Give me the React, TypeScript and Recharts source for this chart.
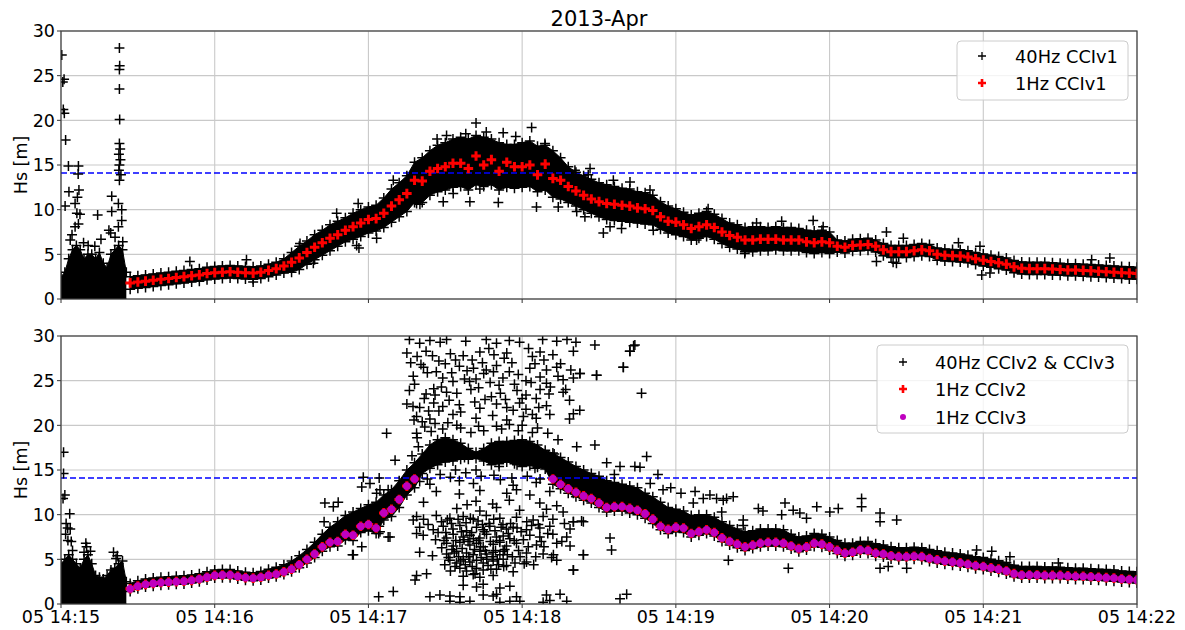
import { Area, CartesianGrid, ComposedChart, ReferenceLine, Scatter, XAxis, YAxis } from 'recharts';

const FONT = 'DejaVu Sans';
const WIDTH = 1185;
const PLOT_RIGHT = 1137;

const xTicks = [0, 60, 120, 180, 240, 300, 360, 420];
const xTickLabels = ['05 14:15', '05 14:16', '05 14:17', '05 14:18', '05 14:19', '05 14:20', '05 14:21', '05 14:22'];
const yTicks = [0, 5, 10, 15, 20, 25, 30];
const hsThreshold = 14.1;

// seconds after 05 14:15:00 of the plotted 1 Hz samples
const sampleTimes = [
  27, 30, 33, 36, 39, 42, 45, 48, 51, 54,
  57, 60, 63, 66, 69, 72, 75, 78, 81, 84,
  87, 90, 93, 96, 99, 102, 105, 108, 111, 114,
  117, 120, 123, 126, 129, 132, 135, 138, 141, 144,
  147, 150, 153, 156, 159, 162, 165, 168, 171, 174,
  177, 180, 183, 186, 189, 192, 195, 198, 201, 204,
  207, 210, 213, 216, 219, 222, 225, 228, 231, 234,
  237, 240, 243, 246, 249, 252, 255, 258, 261, 264,
  267, 270, 273, 276, 279, 282, 285, 288, 291, 294,
  297, 300, 303, 306, 309, 312, 315, 318, 321, 324,
  327, 330, 333, 336, 339, 342, 345, 348, 351, 354,
  357, 360, 363, 366, 369, 372, 375, 378, 381, 384,
  387, 390, 393, 396, 399, 402, 405, 408, 411, 414,
  417, 420,
];

const hz1CCIv1 = [
  1.8, 1.9, 2.0, 2.1, 2.2, 2.3, 2.4, 2.5, 2.6, 2.7,
  2.85, 2.95, 3.0, 3.05, 3.0, 2.95, 2.9, 3.0, 3.2, 3.4,
  3.7, 4.1, 4.6, 5.2, 5.8, 6.3, 6.8, 7.2, 7.7, 8.1,
  8.5, 8.9, 9.0, 9.6, 10.4, 11.1, 11.8, 13.3, 13.2, 14.3,
  14.6, 14.8, 15.2, 15.2, 14.6, 16.0, 15.0, 15.6, 14.3, 15.3,
  14.8, 14.8, 15.0, 13.9, 15.1, 13.5, 13.3, 12.6, 12.1, 11.6,
  11.2, 10.9, 10.7, 10.6, 10.5, 10.4, 10.2, 10.1, 9.9, 9.2,
  8.7, 8.6, 8.3, 7.9, 8.1, 8.3, 8.0, 7.5, 7.1, 6.9,
  6.6, 6.6, 6.7, 6.7, 6.7, 6.6, 6.6, 6.6, 6.4, 6.3,
  6.4, 6.3, 5.9, 5.8, 6.0, 6.05, 6.1, 5.9, 5.5, 5.3,
  5.3, 5.3, 5.4, 5.5, 5.4, 5.0, 4.9, 4.85, 4.8, 4.7,
  4.5, 4.35, 4.2, 4.05, 3.9, 3.6, 3.45, 3.4, 3.4, 3.4,
  3.35, 3.3, 3.25, 3.25, 3.2, 3.15, 3.1, 3.05, 3.0, 2.95,
  2.9, 2.85,
];

// lower / upper edge of the dense 40 Hz CCIv1 cloud
const band40CCIv1Low = [
  1.1, 1.2, 1.3, 1.4, 1.5, 1.6, 1.7, 1.8, 1.9, 2.0,
  2.15, 2.25, 2.3, 2.35, 2.3, 2.25, 2.2, 2.3, 2.5, 2.7,
  2.9, 3.0, 3.3, 3.9, 4.4, 4.9, 5.4, 5.9, 6.4, 6.7,
  7.0, 7.4, 7.6, 8.0, 8.6, 9.2, 9.8, 10.8, 10.8, 11.6,
  12.0, 12.2, 12.5, 12.6, 12.2, 12.8, 12.6, 12.8, 12.2, 12.5,
  12.4, 12.5, 12.6, 12.0, 12.2, 11.4, 11.2, 10.8, 10.4, 10.0,
  9.6, 9.2, 8.9, 8.8, 8.7, 8.6, 8.5, 8.4, 8.3, 7.8,
  7.4, 7.2, 7.0, 6.6, 6.8, 7.0, 6.7, 6.2, 5.8, 5.6,
  5.3, 5.3, 5.4, 5.4, 5.5, 5.4, 5.4, 5.4, 5.2, 5.1,
  5.2, 5.1, 5.25, 5.15, 5.35, 5.4, 5.45, 5.25, 4.85, 4.65,
  4.65, 4.65, 4.75, 4.85, 4.75, 4.35, 4.25, 4.2, 4.15, 4.05,
  3.85, 3.7, 3.55, 3.4, 3.25, 2.95, 2.8, 2.75, 2.75, 2.75,
  2.7, 2.65, 2.6, 2.6, 2.55, 2.5, 2.45, 2.4, 2.35, 2.3,
  2.25, 2.2,
];

const band40CCIv1High = [
  2.5, 2.6, 2.7, 2.8, 2.9, 3.0, 3.1, 3.2, 3.3, 3.4,
  3.55, 3.65, 3.7, 3.75, 3.7, 3.65, 3.6, 3.7, 3.9, 4.1,
  4.5, 5.2, 5.9, 6.5, 7.2, 7.7, 8.3, 8.7, 9.1, 9.6,
  10.0, 10.3, 10.5, 11.3, 12.3, 13.0, 13.8, 15.3, 15.8, 16.6,
  17.2, 17.5, 17.9, 18.1, 17.9, 18.3, 18.1, 17.9, 17.5, 17.3,
  17.3, 17.5, 17.7, 17.1, 17.2, 16.6, 15.8, 14.8, 14.2, 13.8,
  13.4, 13.0, 12.8, 12.6, 12.4, 12.3, 12.0, 11.9, 11.6, 10.9,
  10.4, 10.1, 9.7, 9.4, 9.6, 9.8, 9.5, 9.0, 8.5, 8.3,
  8.0, 8.1, 8.1, 8.0, 8.1, 8.0, 8.0, 7.9, 7.7, 7.6,
  7.7, 7.5, 6.6, 6.5, 6.7, 6.75, 6.8, 6.6, 6.2, 6.0,
  6.0, 6.0, 6.1, 6.2, 6.1, 5.7, 5.6, 5.55, 5.5, 5.4,
  5.2, 5.05, 4.9, 4.75, 4.6, 4.3, 4.15, 4.1, 4.1, 4.1,
  4.05, 4.0, 3.95, 3.95, 3.9, 3.85, 3.8, 3.75, 3.7, 3.65,
  3.6, 3.55,
];

// CCIv2 / CCIv3 have no 1 Hz value between 14:17:28 and 14:18:10
const hz1CCIv2 = [
  1.7, 2.0, 2.2, 2.3, 2.4, 2.45, 2.5, 2.55, 2.65, 2.8,
  3.0, 3.2, 3.25, 3.25, 3.1, 2.95, 2.9, 3.0, 3.2, 3.35,
  3.6, 3.9, 4.4, 5.0, 5.6, 6.4, 6.9, 7.0, 7.8, 7.7,
  8.7, 8.9, 8.5, 10.2, 10.6, 11.7, 13.2, 14.0, null, null,
  null, null, null, null, null, null, null, null, null, null,
  null, null, null, null, null, 14.0, 13.4, 12.9, 12.5, 12.1,
  11.8, 11.3, 10.8, 10.9, 10.9, 10.7, 10.5, 10.1, 9.5, 8.7,
  8.35, 8.6, 8.5, 7.9, 8.1, 8.3, 8.0, 7.4, 7.0, 6.7,
  6.4, 6.6, 6.8, 6.9, 6.9, 6.8, 6.5, 6.2, 6.4, 6.8,
  6.7, 6.4, 6.0, 5.7, 5.8, 6.05, 6.0, 5.7, 5.6, 5.4,
  5.3, 5.3, 5.35, 5.3, 5.1, 4.95, 4.8, 4.7, 4.6, 4.45,
  4.3, 4.2, 4.05, 3.9, 3.7, 3.4, 3.25, 3.25, 3.25, 3.2,
  3.2, 3.2, 3.15, 3.1, 3.1, 3.05, 3.0, 2.95, 2.9, 2.8,
  2.75, 2.7,
];

const hz1CCIv3 = [
  1.7, 2.0, 2.2, 2.3, 2.4, 2.45, 2.5, 2.55, 2.65, 2.8,
  3.0, 3.2, 3.25, 3.25, 3.1, 2.95, 2.9, 3.0, 3.2, 3.35,
  3.6, 3.9, 4.4, 5.0, 5.6, 6.4, 6.9, 7.0, 7.8, 7.7,
  8.7, 8.9, 8.5, 10.2, 10.6, 11.7, 13.2, 14.0, null, null,
  null, null, null, null, null, null, null, null, null, null,
  null, null, null, null, null, 14.0, 13.4, 12.9, 12.5, 12.1,
  11.8, 11.3, 10.8, 10.9, 10.9, 10.7, 10.5, 10.1, 9.5, 8.7,
  8.35, 8.6, 8.5, 7.9, 8.1, 8.3, 8.0, 7.4, 7.0, 6.7,
  6.4, 6.6, 6.8, 6.9, 6.9, 6.8, 6.5, 6.2, 6.4, 6.8,
  6.7, 6.4, 6.0, 5.7, 5.8, 6.05, 6.0, 5.7, 5.6, 5.4,
  5.3, 5.3, 5.35, 5.3, 5.1, 4.95, 4.8, 4.7, 4.6, 4.45,
  4.3, 4.2, 4.05, 3.9, 3.7, 3.4, 3.25, 3.25, 3.25, 3.2,
  3.2, 3.2, 3.15, 3.1, 3.1, 3.05, 3.0, 2.95, 2.9, 2.8,
  2.75, 2.7,
];

const band40CCIv23Low = [
  1.4, 1.7, 1.9, 2.0, 2.1, 2.15, 2.2, 2.25, 2.35, 2.5,
  2.7, 2.9, 2.95, 2.95, 2.8, 2.65, 2.6, 2.7, 2.9, 3.05,
  3.3, 3.6, 4.05, 4.6, 5.2, 5.9, 6.4, 6.5, 7.2, 7.1,
  8.0, 8.2, 7.9, 9.4, 9.8, 10.8, 12.2, 13.0, 14.6, 15.2,
  15.6, 15.9, 16.0, 16.2, 16.2, 16.3, 16.0, 15.6, 15.7, 15.9,
  15.7, 15.4, 15.5, 15.3, 15.1, 13.4, 12.9, 12.4, 12.0, 11.6,
  11.3, 10.8, 10.3, 10.4, 10.4, 10.2, 10.0, 9.6, 9.0, 8.3,
  7.9, 8.1, 8.0, 7.5, 7.7, 7.9, 7.6, 7.0, 6.6, 6.3,
  6.0, 6.2, 6.4, 6.5, 6.5, 6.4, 6.15, 5.85, 6.05, 6.45,
  6.35, 6.05, 5.65, 5.35, 5.45, 5.7, 5.65, 5.35, 5.25, 5.05,
  4.95, 4.95, 5.0, 4.95, 4.75, 4.6, 4.45, 4.35, 4.25, 4.1,
  3.95, 3.85, 3.7, 3.55, 3.35, 3.05, 2.9, 2.9, 2.9, 2.85,
  2.85, 2.85, 2.8, 2.75, 2.75, 2.7, 2.65, 2.6, 2.55, 2.45,
  2.4, 2.35,
];

const band40CCIv23High = [
  2.3, 2.6, 2.8, 2.9, 3.0, 3.05, 3.1, 3.15, 3.25, 3.4,
  3.6, 3.8, 3.85, 3.85, 3.7, 3.55, 3.5, 3.65, 3.9, 4.1,
  4.4, 4.8, 5.4, 6.1, 6.9, 7.8, 8.6, 9.2, 9.9, 10.3,
  10.7, 11.1, 11.4, 12.2, 12.8, 13.8, 15.0, 15.8, 16.8, 17.8,
  18.4, 18.6, 18.4, 18.0, 17.4, 17.0, 17.4, 18.0, 18.2, 18.2,
  18.3, 18.4, 18.2, 17.8, 17.2, 16.9, 16.4, 15.9, 15.4, 15.0,
  14.6, 14.3, 13.8, 13.6, 13.4, 13.2, 13.0, 12.4, 12.0, 11.4,
  10.8, 10.6, 10.4, 9.9, 10.0, 10.0, 9.7, 9.2, 8.8, 8.4,
  8.1, 8.2, 8.4, 8.4, 8.4, 8.3, 7.8, 7.5, 7.6, 7.9,
  7.8, 7.5, 7.1, 6.8, 6.8, 7.0, 7.0, 6.75, 6.6, 6.4,
  6.3, 6.3, 6.35, 6.3, 6.1, 5.95, 5.8, 5.7, 5.6, 5.45,
  5.3, 5.2, 5.0, 4.85, 4.65, 4.35, 4.2, 4.2, 4.2, 4.15,
  4.15, 4.1, 4.05, 4.0, 4.0, 3.95, 3.9, 3.85, 3.8, 3.7,
  3.65, 3.6,
];

// noisy 40 Hz returns before the 1 Hz product starts
const earlyTimes = [0, 1.5, 3, 4.5, 6, 7.5, 9, 10.5, 12, 13.5, 15, 16.5, 18, 19.5, 21, 22.5, 24, 25.5];
const earlyCloudCCIv1 = [2.5, 3.0, 4.5, 5.5, 6.0, 5.5, 4.5, 5.0, 5.0, 4.5, 5.2, 4.0, 3.5, 5.0, 5.5, 6.0, 5.5, 3.0];
const earlyCloudCCIv23 = [4.5, 5.0, 5.5, 5.0, 4.5, 4.0, 5.0, 5.5, 4.5, 3.2, 3.0, 2.8, 3.2, 3.8, 4.0, 4.5, 4.8, 2.5];

// scattered 40 Hz points outside the dense cloud, [seconds, Hs]
const outliersCCIv1 = [
  [0.3, 27.3], [0.7, 24.3], [1.2, 24.6], [0.9, 21.2], [1.3, 20.8], [1.8, 17.8], [2.9, 14.9], [3.1, 12.0], [1.6, 10.4],
  [6.8, 14.9], [6.7, 14.0], [7.0, 12.2], [6.4, 11.4], [5.5, 10.7], [6.2, 9.6], [7.4, 9.5], [5.5, 8.1], [6.8, 8.4],
  [4.3, 7.2], [3.6, 6.6], [8.8, 6.3], [10.6, 6.0], [14.3, 9.4], [15.6, 6.7], [13.2, 5.9],
  [19.8, 11.5], [19.8, 9.8], [18.7, 7.7], [19.4, 7.4], [22.4, 10.7], [23.7, 10.0], [23.7, 8.8], [22.4, 8.1], [24.1, 6.4], [21.1, 6.9],
  [22.8, 28.1], [22.9, 26.1], [22.8, 25.7], [22.8, 23.5], [22.9, 20.1], [22.8, 17.4], [23.1, 16.8], [22.6, 16.2],
  [23.2, 15.6], [22.8, 15.0], [22.6, 14.4], [23.4, 13.9], [22.8, 13.3],
  [50.3, 4.2], [72.4, 4.4], [75.0, 1.9], [93.3, 6.2], [98.5, 4.0], [107.6, 9.6], [116.0, 10.7], [115.4, 6.0],
  [116.3, 5.7], [123.2, 6.8], [129.7, 13.3], [138.8, 10.7], [140.1, 10.6], [149.2, 10.9], [153.1, 11.8],
  [159.6, 10.9], [163.5, 12.3], [170.7, 10.8], [185.6, 10.3], [194.1, 10.3], [201.3, 9.8], [204.5, 9.2],
  [211.7, 7.4], [214.3, 8.1], [218.8, 7.9], [231.2, 7.7],
  [162.0, 19.7], [183.7, 19.2], [150.5, 18.3], [172.6, 18.6], [188.9, 17.4], [158.0, 18.5], [166.0, 18.7],
  [146.8, 17.9], [177.5, 18.2],
  [215.6, 13.3], [222.1, 13.1], [229.9, 12.2], [206.5, 14.6], [200.6, 14.4], [205.8, 13.9], [252.6, 10.1],
  [248.1, 6.6], [266.9, 5.1], [271.5, 8.5], [281.3, 8.7], [293.6, 8.8], [297.5, 8.1], [322.2, 7.5], [328.8, 6.8],
  [326.1, 4.0], [324.8, 4.1], [318.3, 4.2], [350.3, 6.3], [358.7, 5.9], [359.4, 2.7], [362.6, 2.9], [402.3, 4.4],
  [409.4, 4.6],
];

const outliersCCIv23 = [
  [1.0, 17.0], [1.0, 14.6], [0.8, 11.8], [1.5, 12.2], [2.0, 9.0], [2.6, 8.5], [3.4, 10.1], [3.6, 8.4], [1.8, 7.8],
  [4.0, 7.0], [2.7, 7.1], [9.7, 6.8], [10.0, 6.4], [4.5, 6.0], [20.5, 5.8], [21.5, 5.1], [22.0, 5.4], [11.5, 5.9], [9.0, 5.8],
  [103.0, 11.3], [106.3, 10.9], [102.7, 9.2], [114.1, 5.5], [117.4, 6.4], [113.8, 5.5], [124.0, 0.8], [129.7, 1.4],
  [124.0, 7.9], [127.7, 7.5], [124.2, 8.7], [118.0, 14.2], [124.2, 14.1], [123.2, 12.4], [119.3, 9.4], [108.2, 11.4],
  [117.4, 13.1], [127.7, 12.8], [127.1, 19.1], [130.4, 16.1], [120.6, 13.5], [124.5, 12.8], [128.4, 7.5], [124.5, 8.1],
  [137.4, 22.1], [137.8, 20.6], [138.8, 19.1], [137.5, 9.4], [138.8, 7.9], [138.2, 2.7],
  [136, 29.6], [140, 29.2], [144, 29.5], [148, 29.3], [150.5, 29.6], [158, 29.4], [166, 29.6], [170, 29.2], [175, 29.5],
  [179, 29.3], [188, 29.6], [193.5, 29.4], [197.5, 29.6], [201, 29.3],
  [135, 28.1], [139, 27.7], [142.5, 28.3], [152, 28.0], [157, 27.8], [163.5, 28.2], [169, 27.9], [174, 28.1], [184, 27.7],
  [187, 28.2], [192, 27.9], [200, 28.3], [222, 28.3], [223.5, 28.9],
  [141.5, 26.5], [146.5, 26.0], [155.5, 26.6], [158.5, 26.1], [161, 26.4], [166, 26.2], [170, 26.7], [175, 26.0],
  [183, 26.4], [189.5, 26.2], [193.5, 26.5], [202.5, 25.8], [209, 25.6], [219.5, 26.5],
  [149, 25.3], [153, 24.9], [162, 25.2], [167.5, 24.8], [172.5, 25.3], [181.5, 25.0], [187, 25.4], [189.5, 24.7],
  [196, 25.1], [200, 25.3],
  [136, 23.9], [142.5, 23.5], [145.5, 24.1], [150.5, 23.7], [160, 24.0], [171.5, 23.6], [178, 23.9], [181.5, 23.4],
  [187, 24.0], [196, 23.7], [226.6, 23.6],
  [135, 22.4], [140, 22.0], [145.5, 22.5], [149, 22.1], [155.5, 22.3], [163.5, 21.9], [170, 22.4], [174, 22.0],
  [179, 22.5], [181.5, 21.8], [189.5, 22.2], [202.5, 21.7],
  [138.8, 21.0], [144, 20.7], [153, 21.2], [162, 20.8], [168.5, 21.1], [174, 20.6], [180.5, 21.0], [185.5, 20.8],
  [190.8, 21.2], [198.5, 20.7], [200, 21.3],
  [137.5, 25.5], [143, 25.9], [147.5, 27.2], [154, 27.3], [159.5, 24.9], [164.5, 27.0], [168, 23.2], [173, 27.5],
  [177, 24.6], [182.5, 28.6], [185.5, 23.0], [191, 24.3], [195, 26.9], [198.5, 22.8], [156, 21.5], [165.5, 22.9],
  [176.5, 21.7], [184, 21.2], [147.5, 21.6], [141, 20.4],
  [136.5, 27.0], [138, 24.6], [140.5, 26.8], [141.8, 23.0], [143.5, 21.6], [145, 27.8], [146, 23.4], [148.5, 24.3],
  [150, 26.9], [151.5, 22.8], [152.5, 25.9], [154.5, 23.6], [157.5, 25.2], [160.5, 27.3], [161.5, 22.6], [163, 24.2],
  [165, 25.8], [167, 28.6], [168.8, 26.0], [171, 24.5], [173.5, 22.9], [176, 27.0], [178.5, 25.7], [180, 23.0],
  [183.5, 24.8], [185, 26.9], [186.5, 22.0], [188.5, 27.3], [190.5, 23.5], [194, 25.5], [197, 24.0], [199, 26.2],
  [137, 16.6], [139, 18.6], [142, 19.8], [146, 20.2], [151, 20.3], [156, 19.7], [160, 19.2], [165, 19.4], [170, 19.9],
  [175, 20.1], [180, 20.0], [186, 19.7], [190, 19.1], [194, 18.4], [143, 14.0], [148, 14.5], [152, 14.2], [158, 14.7],
  [164, 14.3], [169, 14.4], [176, 14.1], [182, 14.3], [187, 14.0], [191, 14.9],
  [139.5, 17.6], [141, 15.2], [145, 16.0], [150, 17.0], [154, 15.0], [157.5, 16.4], [162, 15.0], [167, 16.2],
  [171, 15.4], [173, 17.0], [178, 15.6], [181, 16.8], [185, 15.2], [189, 16.0], [192.5, 16.8], [144.5, 19.3],
  [149, 19.6], [154.5, 20.0], [163, 19.9], [172, 19.6], [178.5, 19.4], [184, 19.2],
  [140, 13.7], [144, 13.4], [155.5, 13.8], [161, 13.5], [171.5, 13.9], [176.5, 13.3], [185.5, 13.6], [193.5, 13.8],
  [146.5, 12.6], [155.5, 12.3], [163.5, 12.7], [174, 12.4], [177.8, 12.8], [183, 12.2], [190.8, 12.6], [200, 12.4],
  [141.5, 11.4], [158.5, 11.1], [162, 11.5], [168.5, 11.2], [175, 11.6], [186.9, 11.3], [193.5, 11.0],
  [154.5, 10.7], [163.5, 10.4], [170, 10.8], [179, 10.5], [189.5, 10.6], [196, 10.3],
  [138.8, 9.8], [141.5, 9.5], [146.5, 9.9], [151.8, 9.6], [157, 9.8], [160.9, 9.5], [166, 9.9], [171.3, 9.6],
  [177.8, 9.7], [184.3, 9.4], [188.2, 9.8], [192, 9.5], [200, 9.2], [203.2, 9.3],
  [140, 8.6], [145.3, 8.3], [149.2, 8.7], [153, 8.4], [155.7, 8.8], [158.3, 8.2], [162.2, 8.6], [164.8, 8.3],
  [167.4, 8.7], [173.9, 8.4], [176.5, 8.6], [181.7, 8.3], [186.9, 8.5], [190.8, 8.7], [198.7, 8.4],
  [141.4, 7.7], [150.5, 7.4], [153.1, 7.8], [157, 7.5], [159.6, 7.7], [163.5, 7.4], [166.1, 7.8], [170, 7.5],
  [172.6, 7.6], [175.2, 7.3], [183, 7.7], [186.9, 7.5], [192, 7.8], [197.4, 7.5], [214.3, 7.4],
  [150.5, 6.8], [153.1, 6.5], [155.7, 6.9], [159.6, 6.6], [162.2, 6.8], [164.8, 6.4], [168.7, 6.7], [171.3, 6.9],
  [173.9, 6.5], [177.8, 6.8], [185.6, 6.6], [193.5, 6.8], [198.7, 6.5],
  [140, 5.8], [150.5, 5.6], [154.4, 5.9], [158.3, 5.7], [160.9, 5.5], [163.5, 5.9], [166.1, 5.6], [168.7, 5.8],
  [171.3, 5.5], [172.6, 5.9], [181.7, 5.7], [188.2, 5.6], [203.9, 5.5], [214.9, 6.05],
  [151.8, 4.9], [154.4, 4.6], [157, 5.0], [159.6, 4.7], [162.2, 4.9], [164.8, 4.6], [168.7, 4.8], [172.6, 5.0],
  [181.7, 4.7], [193.5, 4.9],
  [148.5, 9.2], [148.6, 6.3], [149.8, 4.4], [150.2, 8.0], [151.2, 5.2], [152.4, 9.0], [152.6, 6.1], [153.8, 4.2],
  [154.1, 7.1], [155.2, 5.3], [156.3, 8.1], [156.6, 6.2], [157.8, 4.4], [158.1, 9.1], [158.9, 7.0], [159.2, 5.3],
  [160.3, 8.0], [161.4, 6.1], [161.6, 3.4], [162.8, 9.3], [163.1, 7.1], [164.0, 5.2], [165.3, 8.1], [165.6, 6.0],
  [166.7, 4.3], [167.1, 9.0], [167.6, 7.0], [168.3, 5.3], [169.4, 8.2], [169.6, 6.0], [170.8, 4.4], [171.2, 7.1],
  [172.5, 8.9], [173.2, 6.1], [173.9, 4.3], [174.6, 7.9], [176.2, 5.3], [176.9, 7.1], [178.6, 6.0], [179.6, 8.1],
  [180.8, 4.5], [182.4, 6.4], [183.7, 8.8], [185.3, 5.3], [187.5, 7.0], [146.2, 7.2], [145.0, 5.4], [143.3, 8.9],
  [147.2, 8.0], [149.5, 7.1], [150.8, 9.4], [152.0, 3.7], [153.5, 5.7], [155.0, 9.5], [156.0, 4.8], [157.3, 7.2],
  [159.8, 9.6], [160.5, 4.2], [161.0, 7.3], [163.8, 6.4], [164.5, 8.9], [166.2, 5.0], [167.8, 3.9], [168.9, 9.5],
  [170.3, 5.0], [171.8, 8.6], [172.8, 4.2], [174.2, 5.5], [175.5, 9.0], [177.2, 4.6], [178.0, 8.5], [179.2, 5.3],
  [180.5, 7.2], [181.8, 9.2], [184.5, 4.4], [186.3, 8.9], [188.5, 6.4], [190.0, 7.9], [191.5, 5.2], [195.5, 7.0],
  [196.5, 9.0],
  [155.7, 4.0], [158.3, 3.7], [162.2, 4.0], [164.8, 3.8], [170, 3.9], [176.5, 3.6], [200, 3.8],
  [138.8, 3.2], [142.7, 3.4], [157, 3.1], [160.9, 3.3], [163.5, 3.0], [168.7, 3.2],
  [157, 2.1], [162.2, 1.9], [164.8, 2.2], [171.3, 1.8], [175.2, 2.0],
  [144, 0.8], [147.9, 1.0], [151.8, 0.9], [155.7, 0.8], [164.8, 1.0], [168.7, 0.9], [170, 1.1], [177.8, 0.8],
  [189.5, 1.0], [194.8, 1.1], [220.8, 1.1],
  [151.8, 0.3], [155.7, 0.2], [159.6, 0.3], [171.3, 0.2], [175.2, 0.3], [179.1, 0.3], [188.2, 0.2], [190.8, 0.4],
  [197.4, 0.3], [218.2, 0.6],
  [208.4, 29.0], [219.5, 26.5], [222.1, 28.3], [224, 29.0], [209.1, 25.6], [202.6, 25.8], [201.3, 17.6], [208.4, 17.8],
  [228.6, 16.5], [224, 15.4], [226, 15.3], [218.2, 15.4], [213, 15.8], [230, 13.5], [235, 12.8], [238, 13.0],
  [242, 12.4], [233, 14.5], [216, 14.5], [200, 9.2], [203.9, 9.2], [203.9, 5.5], [200, 3.8], [192.2, 5.5],
  [260.5, 4.9], [283.9, 4.0], [282.6, 11.3], [285.8, 10.5], [272.2, 10.7], [274, 10.4], [262.4, 12.0], [259.8, 11.8],
  [253.3, 12.2], [247.5, 12.6], [246.8, 11.3], [250.7, 11.8], [255.9, 11.8], [258.5, 11.6], [257.9, 10.3],
  [281.3, 10.0], [288.4, 10.2], [291, 9.6], [295, 10.9], [300.1, 10.3], [303.4, 10.7], [312.5, 11.8], [312.5, 10.9],
  [319.7, 10.2], [319.7, 9.2], [326.2, 9.4], [319.7, 4.0], [322.9, 4.2], [330.1, 4.0], [357.4, 6.05], [363.3, 5.9],
  [370.4, 5.3], [389.3, 4.6], [266.3, 9.4], [266.3, 8.8],
];

type Pt = { cx?: number; cy?: number };

const cross = (cx: number, cy: number, r: number) => `M${cx - r},${cy}H${cx + r}M${cx},${cy - r}V${cy + r}`;

const blackPlus = (p: Pt) => (
  <path d={cross(p.cx ?? 0, p.cy ?? 0, 5)} stroke="#000" strokeWidth={1.5} fill="none" />
);
const redPlus = (p: Pt) => (
  <path d={cross(p.cx ?? 0, p.cy ?? 0, 4.8)} stroke="#ff0000" strokeWidth={3} fill="none" />
);
const magentaDot = (p: Pt) => <circle cx={p.cx} cy={p.cy} r={3.9} fill="#bf00bf" />;

const toPoints = (times: number[], values: (number | null)[]) =>
  times.flatMap((t, i) => (values[i] == null ? [] : [{ t, v: values[i] as number }]));
const fromPairs = (pairs: number[][]) => pairs.map(([t, v]) => ({ t, v }));

const buildRows = (cloud: number[], low: number[], high: number[]) => [
  ...earlyTimes.map((t, i) => ({ t, cloud: [0, cloud[i]] })),
  ...sampleTimes.map((t, i) => ({ t, band: [low[i], high[i]] })),
];

const topRows = buildRows(earlyCloudCCIv1, band40CCIv1Low, band40CCIv1High);
const bottomRows = buildRows(earlyCloudCCIv23, band40CCIv23Low, band40CCIv23High);

const tickStyle = { fontSize: 17.5, fill: '#000', fontFamily: FONT };

interface PanelProps {
  top: number;
  height: number;
  marginTop: number;
  axisHeight: number;
  showTimeLabels: boolean;
  rows: Record<string, unknown>[];
  cloud: number[];
  low: number[];
  high: number[];
  outliers: number[][];
  redValues: (number | null)[];
  magentaValues?: (number | null)[];
}

function Panel(props: PanelProps) {
  const { top, height, marginTop, axisHeight, showTimeLabels, rows, cloud, low, high, outliers, redValues, magentaValues } = props;
  return (
    <div style={{ position: 'absolute', left: 0, top }}>
      <ComposedChart
        width={WIDTH}
        height={height}
        data={rows}
        margin={{ top: marginTop, right: WIDTH - PLOT_RIGHT, bottom: 0, left: 0 }}
      >
        <CartesianGrid stroke="#c9c9c9" strokeWidth={1.1} />
        <XAxis
          dataKey="t"
          type="number"
          domain={[0, 420]}
          ticks={xTicks}
          interval={0}
          allowDataOverflow
          height={axisHeight}
          axisLine={false}
          tickSize={4}
          tickMargin={3}
          tickLine={{ stroke: '#333' }}
          tick={tickStyle}
          tickFormatter={(v: number) => (showTimeLabels ? xTickLabels[xTicks.indexOf(v)] : '')}
        />
        <YAxis
          type="number"
          domain={[0, 30]}
          ticks={yTicks}
          interval={0}
          allowDataOverflow
          width={61}
          axisLine={false}
          tickSize={4}
          tickMargin={2}
          tickLine={{ stroke: '#333' }}
          tick={tickStyle}
        />
        <Area dataKey="cloud" type="linear" stroke="#000" strokeWidth={1} fill="#000" fillOpacity={1} dot={false} activeDot={false} isAnimationActive={false} />
        <Area dataKey="band" type="linear" stroke="#000" strokeWidth={1} fill="#000" fillOpacity={1} dot={false} activeDot={false} isAnimationActive={false} />
        <ReferenceLine y={hsThreshold} stroke="#0000ff" strokeWidth={1.5} strokeDasharray="6 3" />
        <Scatter data={toPoints(earlyTimes, cloud)} dataKey="v" shape={blackPlus} isAnimationActive={false} />
        <Scatter data={toPoints(sampleTimes, low)} dataKey="v" shape={blackPlus} isAnimationActive={false} />
        <Scatter data={toPoints(sampleTimes, high)} dataKey="v" shape={blackPlus} isAnimationActive={false} />
        <Scatter data={fromPairs(outliers)} dataKey="v" shape={blackPlus} isAnimationActive={false} />
        <Scatter data={toPoints(sampleTimes, redValues)} dataKey="v" shape={redPlus} isAnimationActive={false} />
        {magentaValues && (
          <Scatter data={toPoints(sampleTimes, magentaValues)} dataKey="v" shape={magentaDot} isAnimationActive={false} />
        )}
      </ComposedChart>
    </div>
  );
}

const legendText = { fontSize: 17.8, fontFamily: FONT, fill: '#000', dominantBaseline: 'central' as const };

export default function App() {
  return (
    <div style={{ position: 'absolute', left: 0, top: 0, width: WIDTH, height: 630, background: '#fff', overflow: 'hidden' }}>
      <Panel
        top={0}
        height={310}
        marginTop={31}
        axisHeight={11}
        showTimeLabels={false}
        rows={topRows}
        cloud={earlyCloudCCIv1}
        low={band40CCIv1Low}
        high={band40CCIv1High}
        outliers={outliersCCIv1}
        redValues={hz1CCIv1}
      />
      <Panel
        top={310}
        height={320}
        marginTop={26}
        axisHeight={26}
        showTimeLabels
        rows={bottomRows}
        cloud={earlyCloudCCIv23}
        low={band40CCIv23Low}
        high={band40CCIv23High}
        outliers={outliersCCIv23}
        redValues={hz1CCIv2}
        magentaValues={hz1CCIv3}
      />
      <svg width={WIDTH} height={630} style={{ position: 'absolute', left: 0, top: 0, pointerEvents: 'none' }}>
        <text x={599} y={26} textAnchor="middle" fontSize={21} fontFamily={FONT} fill="#000">2013-Apr</text>
        <text transform="translate(27,165) rotate(-90)" textAnchor="middle" fontSize={17.5} fontFamily={FONT} fill="#000">Hs [m]</text>
        <text transform="translate(27,470) rotate(-90)" textAnchor="middle" fontSize={17.5} fontFamily={FONT} fill="#000">Hs [m]</text>
        <rect x={61} y={31} width={1076} height={268} fill="none" stroke="#3d3d3d" strokeWidth={1.2} />
        <rect x={61} y={336} width={1076} height={268} fill="none" stroke="#3d3d3d" strokeWidth={1.2} />

        <rect x={957} y={41} width={171} height={59} rx={4} fill="#fff" fillOpacity={0.8} stroke="#cccccc" />
        <path d={cross(982, 56, 4)} stroke="#000" strokeWidth={1.3} />
        <text x={1015} y={56} {...legendText}>40Hz CCIv1</text>
        <path d={cross(982, 83, 4)} stroke="#ff0000" strokeWidth={2.6} />
        <text x={1015} y={83} {...legendText}>1Hz CCIv1</text>

        <rect x={877} y={345} width={251} height={88} rx={4} fill="#fff" fillOpacity={0.8} stroke="#cccccc" />
        <path d={cross(903, 362, 4)} stroke="#000" strokeWidth={1.3} />
        <text x={935} y={362} {...legendText}>40Hz CCIv2 &amp; CCIv3</text>
        <path d={cross(903, 389, 4)} stroke="#ff0000" strokeWidth={2.6} />
        <text x={935} y={389} {...legendText}>1Hz CCIv2</text>
        <circle cx={903} cy={417} r={3} fill="#bf00bf" />
        <text x={935} y={417} {...legendText}>1Hz CCIv3</text>
      </svg>
    </div>
  );
}
